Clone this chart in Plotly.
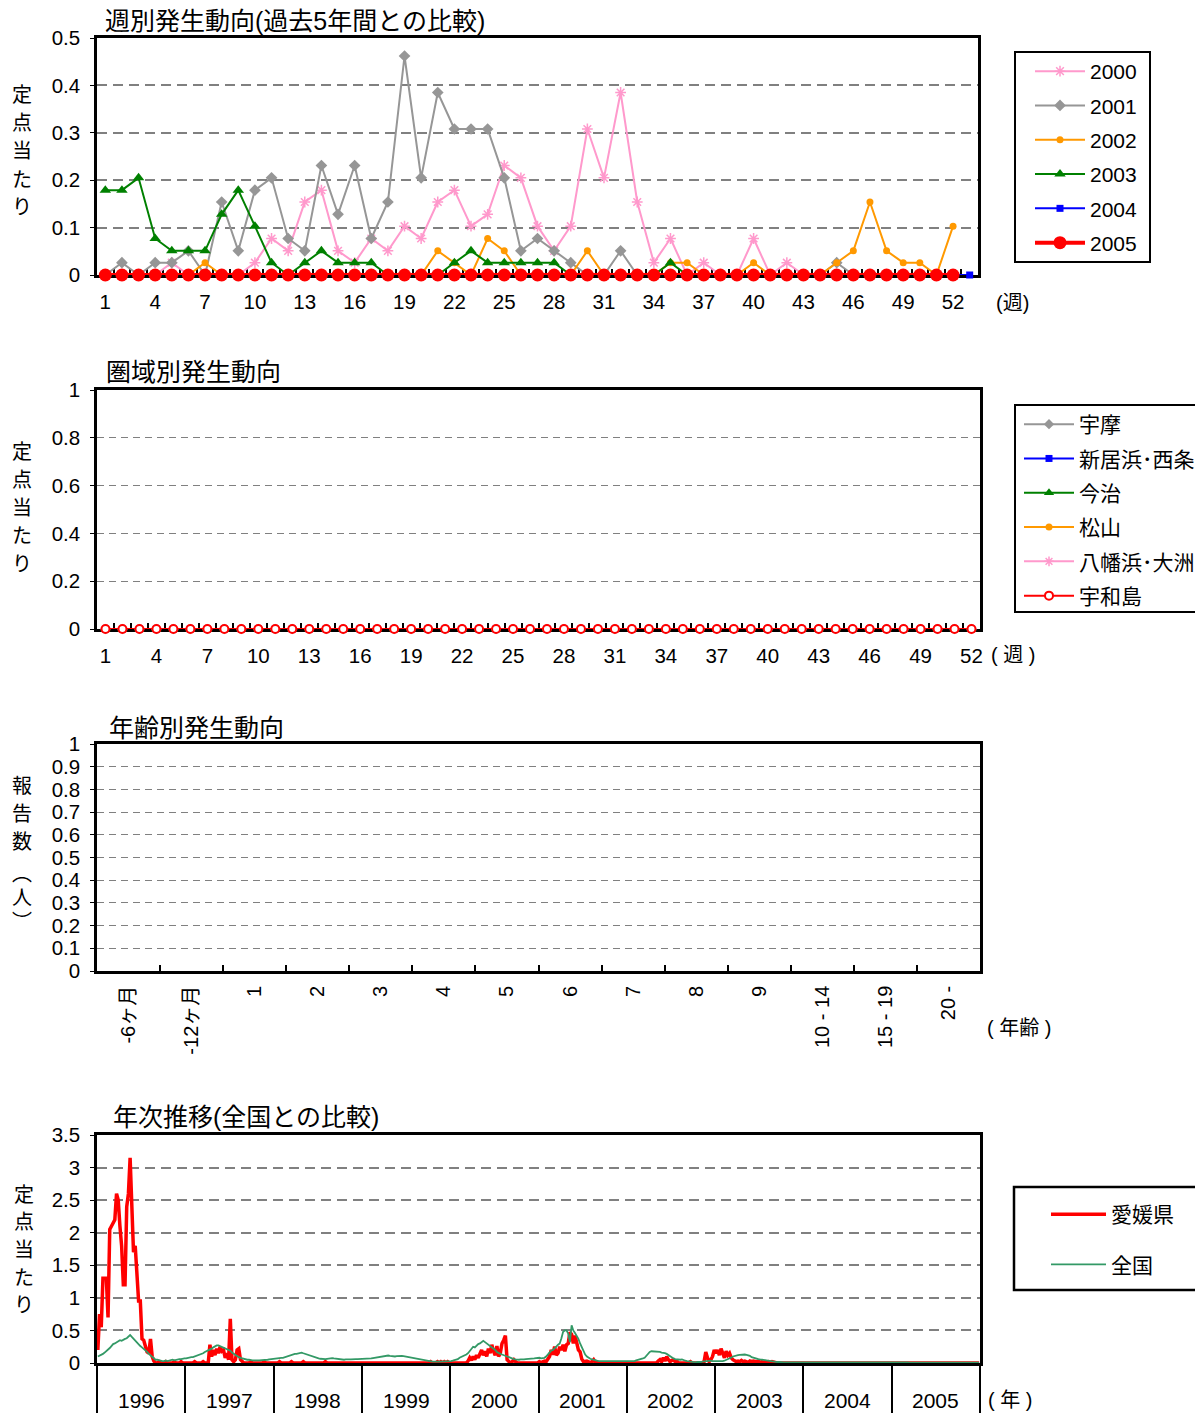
import plotly.graph_objects as go

W, H = 1203, 1413
OFF = 8  # page body margin offset
WF, HF = W - OFF, H - OFF
FONT = "Arial, 'Liberation Sans', 'Noto Sans CJK JP', sans-serif"


def px_x(x):
    return (x - OFF) / WF


def px_y(y):
    return 1 - (y - OFF) / HF


# ---------------- Chart 1: weekly, past 5 years ----------------
weeks_52 = [1, 2, 3, 4, 5, 6, 7, 8, 9, 10, 11, 12, 13, 14, 15, 16, 17, 18, 19, 20,
            21, 22, 23, 24, 25, 26, 27, 28, 29, 30, 31, 32, 33, 34, 35, 36, 37, 38, 39, 40,
            41, 42, 43, 44, 45, 46, 47, 48, 49, 50, 51, 52]
weeks_53 = weeks_52 + [53]
week_tick_labels = [1, 4, 7, 10, 13, 16, 19, 22, 25, 28, 31, 34, 37, 40, 43, 46, 49, 52]

w2000 = [0, 0, 0, 0, 0.026, 0, 0, 0, 0, 0.026,
         0.077, 0.051, 0.154, 0.179, 0.051, 0.026, 0.077, 0.051, 0.103, 0.077,
         0.154, 0.179, 0.103, 0.128, 0.231, 0.205, 0.103, 0.051, 0.103, 0.308,
         0.205, 0.385, 0.154, 0.026, 0.077, 0, 0.026, 0, 0, 0.077,
         0, 0.026, 0, 0, 0, 0, 0, 0, 0, 0, 0, 0]
w2001 = [0, 0.026, 0, 0.026, 0.026, 0.051, 0, 0.154, 0.051, 0.179,
         0.205, 0.077, 0.051, 0.231, 0.128, 0.231, 0.077, 0.154, 0.462, 0.205,
         0.385, 0.308, 0.308, 0.308, 0.205, 0.051, 0.077, 0.051, 0.026, 0,
         0, 0.051, 0, 0, 0, 0, 0, 0, 0, 0,
         0, 0, 0, 0, 0.026, 0, 0, 0, 0, 0, 0, 0]
w2002 = [0, 0, 0, 0, 0, 0, 0.026, 0, 0, 0,
         0, 0, 0, 0, 0, 0, 0, 0, 0, 0,
         0.051, 0.026, 0, 0.077, 0.051, 0, 0, 0, 0, 0.051,
         0, 0, 0, 0, 0.026, 0.026, 0, 0, 0, 0.026,
         0, 0, 0, 0, 0.026, 0.051, 0.154, 0.051, 0.026, 0.026, 0, 0.103]
w2003 = [0.179, 0.179, 0.205, 0.077, 0.051, 0.051, 0.051, 0.128, 0.179, 0.103,
         0.026, 0, 0.026, 0.051, 0.026, 0.026, 0.026, 0, 0, 0,
         0, 0.026, 0.051, 0.026, 0.026, 0.026, 0.026, 0.026, 0, 0,
         0, 0, 0, 0, 0.026, 0, 0, 0, 0, 0,
         0, 0, 0, 0, 0, 0, 0, 0, 0, 0, 0, 0]
w2004 = [0, 0, 0, 0, 0, 0, 0, 0, 0, 0,
         0, 0, 0, 0, 0, 0, 0, 0, 0, 0,
         0, 0, 0, 0, 0, 0, 0, 0, 0, 0,
         0, 0, 0, 0, 0, 0, 0, 0, 0, 0,
         0, 0, 0, 0, 0, 0, 0, 0, 0, 0, 0, 0, 0]
w2005 = [0, 0, 0, 0, 0, 0, 0, 0, 0, 0,
         0, 0, 0, 0, 0, 0, 0, 0, 0, 0,
         0, 0, 0, 0, 0, 0, 0, 0, 0, 0,
         0, 0, 0, 0, 0, 0, 0, 0, 0, 0,
         0, 0, 0, 0, 0, 0, 0, 0, 0, 0, 0, 0]

# ---------------- Chart 2: by region ----------------
region_names = ["宇摩", "新居浜･西条", "今治", "松山", "八幡浜･大洲", "宇和島"]
r_uma = [0, 0, 0, 0, 0, 0, 0, 0, 0, 0, 0, 0, 0, 0, 0, 0, 0, 0, 0, 0, 0, 0, 0, 0, 0, 0,
         0, 0, 0, 0, 0, 0, 0, 0, 0, 0, 0, 0, 0, 0, 0, 0, 0, 0, 0, 0, 0, 0, 0, 0, 0, 0]
r_niihama = [0, 0, 0, 0, 0, 0, 0, 0, 0, 0, 0, 0, 0, 0, 0, 0, 0, 0, 0, 0, 0, 0, 0, 0, 0, 0,
             0, 0, 0, 0, 0, 0, 0, 0, 0, 0, 0, 0, 0, 0, 0, 0, 0, 0, 0, 0, 0, 0, 0, 0, 0, 0]
r_imabari = [0, 0, 0, 0, 0, 0, 0, 0, 0, 0, 0, 0, 0, 0, 0, 0, 0, 0, 0, 0, 0, 0, 0, 0, 0, 0,
             0, 0, 0, 0, 0, 0, 0, 0, 0, 0, 0, 0, 0, 0, 0, 0, 0, 0, 0, 0, 0, 0, 0, 0, 0, 0]
r_matsuyama = [0, 0, 0, 0, 0, 0, 0, 0, 0, 0, 0, 0, 0, 0, 0, 0, 0, 0, 0, 0, 0, 0, 0, 0, 0, 0,
               0, 0, 0, 0, 0, 0, 0, 0, 0, 0, 0, 0, 0, 0, 0, 0, 0, 0, 0, 0, 0, 0, 0, 0, 0, 0]
r_yawatahama = [0, 0, 0, 0, 0, 0, 0, 0, 0, 0, 0, 0, 0, 0, 0, 0, 0, 0, 0, 0, 0, 0, 0, 0, 0, 0,
                0, 0, 0, 0, 0, 0, 0, 0, 0, 0, 0, 0, 0, 0, 0, 0, 0, 0, 0, 0, 0, 0, 0, 0, 0, 0]
r_uwajima = [0, 0, 0, 0, 0, 0, 0, 0, 0, 0, 0, 0, 0, 0, 0, 0, 0, 0, 0, 0, 0, 0, 0, 0, 0, 0,
             0, 0, 0, 0, 0, 0, 0, 0, 0, 0, 0, 0, 0, 0, 0, 0, 0, 0, 0, 0, 0, 0, 0, 0, 0, 0]

# ---------------- Chart 3: by age ----------------
age_categories = ["-6ヶ月", "-12ヶ月", "1", "2", "3", "4", "5", "6", "7", "8", "9",
                  "10 - 14", "15 - 19", "20 -"]
age_counts = [None, None, None, None, None, None, None, None, None, None, None, None, None, None]

# ---------------- Chart 4: yearly trend ----------------
year_labels = ["1996", "1997", "1998", "1999", "2000", "2001", "2002", "2003", "2004", "2005"]

ehime_1996 = [0.2, 0.75, 0.55, 1.3, 1.3, 1.3, 0.7, 2.05, 2.1, 2.15,
              2.2, 2.6, 2.5, 2.1, 1.8, 1.2, 1.2, 2.4, 2.6, 3.15,
              2.55, 1.7, 1.8, 1.4, 0.95, 0.95, 0.37, 0.35, 0.25, 0.17,
              0.15, 0.37, 0.1, 0.03, 0, 0, 0.02, 0, 0, 0,
              0.02, 0, 0, 0, 0, 0.02, 0, 0, 0, 0.02,
              0, 0]
ehime_1997 = [0, 0, 0, 0, 0, 0.02, 0, 0, 0, 0,
              0.02, 0, 0, 0, 0.28, 0.1, 0.2, 0.12, 0.22, 0.15,
              0.25, 0.18, 0.2, 0.08, 0.15, 0.05, 0.68, 0.05, 0.02, 0.05,
              0.2, 0.22, 0.05, 0.02, 0, 0, 0, 0, 0.02, 0,
              0, 0, 0, 0, 0, 0, 0.02, 0, 0, 0,
              0, 0]
ehime_1998 = [0, 0, 0, 0.02, 0, 0, 0, 0, 0, 0,
              0.02, 0, 0, 0, 0, 0, 0, 0.02, 0, 0,
              0, 0, 0, 0, 0, 0, 0, 0, 0, 0,
              0.02, 0, 0, 0, 0, 0, 0, 0, 0, 0,
              0, 0, 0, 0, 0, 0, 0, 0, 0, 0,
              0, 0]
ehime_1999 = [0, 0, 0, 0, 0, 0, 0, 0, 0, 0,
              0, 0, 0, 0, 0, 0, 0, 0, 0, 0,
              0, 0, 0, 0, 0, 0, 0, 0, 0, 0,
              0, 0, 0, 0, 0, 0, 0, 0, 0, 0,
              0.02, 0, 0, 0, 0.02, 0, 0.02, 0, 0.02, 0,
              0.02, 0]
ehime_2000 = [0, 0, 0, 0, 0, 0, 0, 0, 0, 0,
              0.03, 0.08, 0.04, 0.1, 0.05, 0.12, 0.08, 0.15, 0.2, 0.12,
              0.18, 0.1, 0.22, 0.15, 0.28, 0.18, 0.12, 0.26, 0.1, 0.15,
              0.3, 0.35, 0.42, 0.05, 0.02, 0, 0.02, 0.05, 0.02, 0,
              0, 0, 0, 0, 0, 0, 0, 0, 0, 0,
              0, 0]
ehime_2001 = [0.02, 0, 0.02, 0.03, 0.02, 0.05, 0.1, 0.2, 0.13, 0.25,
              0.12, 0.15, 0.25, 0.2, 0.28, 0.18, 0.28, 0.3, 0.47, 0.44,
              0.3, 0.42, 0.28, 0.2, 0.17, 0.06, 0.02, 0.03, 0.03, 0.02,
              0, 0.02, 0.05, 0.01, 0, 0, 0, 0, 0, 0,
              0, 0, 0, 0, 0, 0, 0, 0, 0, 0,
              0, 0]
ehime_2002 = [0, 0, 0, 0, 0, 0, 0, 0, 0, 0,
              0, 0, 0, 0, 0, 0, 0, 0, 0.03, 0.05,
              0.02, 0.08, 0.03, 0.1, 0.05, 0.02, 0.04, 0.05, 0.02, 0.03,
              0, 0, 0, 0, 0, 0, 0, 0.02, 0, 0,
              0, 0, 0, 0, 0, 0.02, 0.17, 0.08, 0.02, 0.05,
              0.1, 0.2]
ehime_2003 = [0.15, 0.2, 0.12, 0.22, 0.15, 0.08, 0.18, 0.12, 0.15, 0.08,
              0.05, 0.03, 0.02, 0.03, 0.02, 0.04, 0.02, 0.03, 0.02, 0.01,
              0.03, 0.02, 0.03, 0.02, 0.02, 0.03, 0.01, 0.02, 0.01, 0.02,
              0.01, 0.02, 0.01, 0.02, 0.01, 0, 0, 0, 0, 0,
              0, 0, 0, 0, 0, 0, 0, 0, 0, 0,
              0, 0]
ehime_2004 = [0, 0, 0, 0, 0, 0, 0, 0, 0, 0,
              0, 0, 0, 0, 0, 0, 0.01, 0.01, 0.01, 0.01,
              0.01, 0.01, 0.01, 0, 0, 0, 0, 0, 0, 0,
              0, 0, 0, 0, 0, 0, 0, 0, 0, 0,
              0, 0, 0, 0, 0, 0, 0, 0, 0, 0,
              0, 0]
ehime_2005 = [0, 0, 0, 0, 0, 0, 0, 0, 0, 0,
              0, 0, 0, 0, 0, 0, 0, 0, 0, 0,
              0, 0, 0, 0, 0, 0, 0, 0, 0, 0,
              0, 0, 0, 0, 0, 0, 0, 0, 0, 0,
              0, 0, 0, 0, 0, 0, 0, 0, 0, 0,
              0, 0]

zenkoku_1996 = [0.1, 0.11, 0.12, 0.14, 0.16, 0.18, 0.21, 0.23, 0.26, 0.29,
                0.3, 0.32, 0.33, 0.35, 0.34, 0.36, 0.37, 0.38, 0.4, 0.43,
                0.4, 0.37, 0.34, 0.31, 0.29, 0.26, 0.24, 0.22, 0.2, 0.17,
                0.14, 0.12, 0.09, 0.07, 0.05, 0.05, 0.04, 0.03, 0.03, 0.03,
                0.04, 0.03, 0.04, 0.04, 0.05, 0.04, 0.05, 0.05, 0.06, 0.06,
                0.07, 0.07]
zenkoku_1997 = [0.07, 0.08, 0.08, 0.09, 0.09, 0.1, 0.11, 0.11, 0.12, 0.13,
                0.15, 0.17, 0.18, 0.2, 0.21, 0.22, 0.24, 0.26, 0.27, 0.27,
                0.26, 0.25, 0.24, 0.23, 0.22, 0.2, 0.19, 0.16, 0.14, 0.12,
                0.1, 0.09, 0.08, 0.07, 0.06, 0.06, 0.05, 0.05, 0.04, 0.04,
                0.04, 0.035, 0.04, 0.04, 0.04, 0.045, 0.045, 0.05, 0.05, 0.055,
                0.06, 0.065]
zenkoku_1998 = [0.065, 0.07, 0.07, 0.075, 0.08, 0.08, 0.09, 0.1, 0.11, 0.12,
                0.12, 0.13, 0.14, 0.14, 0.15, 0.16, 0.16, 0.15, 0.14, 0.13,
                0.12, 0.11, 0.1, 0.09, 0.08, 0.07, 0.07, 0.065, 0.06, 0.06,
                0.06, 0.065, 0.07, 0.07, 0.075, 0.07, 0.065, 0.06, 0.06, 0.055,
                0.055, 0.05, 0.055, 0.05, 0.055, 0.055, 0.06, 0.055, 0.06, 0.06,
                0.06, 0.06]
zenkoku_1999 = [0.06, 0.06, 0.065, 0.065, 0.07, 0.07, 0.075, 0.08, 0.085, 0.09,
                0.1, 0.1, 0.11, 0.115, 0.12, 0.115, 0.11, 0.105, 0.1, 0.1,
                0.105, 0.11, 0.11, 0.11, 0.105, 0.1, 0.095, 0.09, 0.08, 0.075,
                0.065, 0.06, 0.055, 0.05, 0.045, 0.04, 0.035, 0.03, 0.03, 0.025,
                0.02, 0.02, 0.02, 0.015, 0.02, 0.02, 0.02, 0.025, 0.025, 0.03,
                0.03, 0.03]
zenkoku_2000 = [0.03, 0.035, 0.04, 0.05, 0.06, 0.08, 0.09, 0.1, 0.12, 0.13,
                0.15, 0.18, 0.21, 0.25, 0.24, 0.27, 0.29, 0.3, 0.32, 0.34,
                0.32, 0.3, 0.29, 0.27, 0.25, 0.23, 0.2, 0.17, 0.15, 0.14,
                0.13, 0.12, 0.1, 0.09, 0.08, 0.07, 0.065, 0.06, 0.055, 0.05,
                0.05, 0.055, 0.05, 0.055, 0.06, 0.06, 0.06, 0.065, 0.07, 0.07,
                0.075, 0.08]
zenkoku_2001 = [0.08, 0.07, 0.07, 0.08, 0.1, 0.13, 0.17, 0.19, 0.2, 0.22,
                0.25, 0.28, 0.3, 0.38, 0.48, 0.5, 0.5, 0.45, 0.32, 0.58,
                0.5, 0.46, 0.42, 0.37, 0.3, 0.24, 0.19, 0.13, 0.1, 0.08,
                0.065, 0.055, 0.045, 0.04, 0.035, 0.03, 0.03, 0.025, 0.025, 0.02,
                0.02, 0.02, 0.02, 0.025, 0.02, 0.025, 0.025, 0.03, 0.03, 0.03,
                0.03, 0.03]
zenkoku_2002 = [0.03, 0.025, 0.02, 0.025, 0.03, 0.04, 0.045, 0.05, 0.06, 0.07,
                0.08, 0.11, 0.15, 0.17, 0.18, 0.18, 0.17, 0.18, 0.17, 0.17,
                0.16, 0.16, 0.15, 0.14, 0.12, 0.1, 0.08, 0.07, 0.06, 0.055,
                0.055, 0.05, 0.055, 0.04, 0.035, 0.03, 0.025, 0.02, 0.015, 0.01,
                0.01, 0.015, 0.01, 0.015, 0.02, 0.025, 0.03, 0.035, 0.04, 0.035,
                0.03, 0.03]
zenkoku_2003 = [0.02, 0.02, 0.02, 0.025, 0.03, 0.035, 0.045, 0.06, 0.07, 0.085,
                0.1, 0.11, 0.12, 0.12, 0.125, 0.13, 0.13, 0.13, 0.125, 0.12,
                0.11, 0.09, 0.08, 0.07, 0.065, 0.06, 0.055, 0.05, 0.045, 0.04,
                0.04, 0.035, 0.03, 0.025, 0.02, 0.02, 0.015, 0.015, 0.01, 0.01,
                0.01, 0.01, 0.01, 0.01, 0.01, 0.01, 0.01, 0.01, 0.01, 0.01,
                0.01, 0.01]
zenkoku_2004 = [0.01, 0.01, 0.01, 0.01, 0.01, 0.01, 0.01, 0.01, 0.01, 0.01,
                0.01, 0.01, 0.01, 0.01, 0.02, 0.02, 0.02, 0.02, 0.02, 0.02,
                0.02, 0.02, 0.02, 0.02, 0.02, 0.01, 0.01, 0.01, 0.01, 0.01,
                0.01, 0.01, 0.01, 0.01, 0.01, 0.01, 0.01, 0.01, 0.01, 0.01,
                0.01, 0.01, 0.01, 0.01, 0.01, 0.01, 0.01, 0.01, 0.01, 0.01,
                0.01, 0.01]
zenkoku_2005 = [0.01, 0.01, 0.01, 0.01, 0.01, 0.01, 0.01, 0.01, 0.01, 0.01,
                0.005, 0.005, 0.005, 0.005, 0.005, 0.005, 0.005, 0.005, 0.005, 0.005,
                0.005, 0.005, 0.005, 0.005, 0.005, 0.005, 0.005, 0.005, 0.005, 0.005,
                0.005, 0.005, 0.005, 0.005, 0.005, 0.005, 0.005, 0.005, 0.005, 0.005,
                0.005, 0.005, 0.005, 0.005, 0.005, 0.005, 0.005, 0.005, 0.005, 0.005,
                0.005, 0.005]

ehime_all = (ehime_1996 + ehime_1997 + ehime_1998 + ehime_1999 + ehime_2000 +
             ehime_2001 + ehime_2002 + ehime_2003 + ehime_2004 + ehime_2005)
zenkoku_all = (zenkoku_1996 + zenkoku_1997 + zenkoku_1998 + zenkoku_1999 + zenkoku_2000 +
               zenkoku_2001 + zenkoku_2002 + zenkoku_2003 + zenkoku_2004 + zenkoku_2005)
trend_x = list(range(len(ehime_all)))
WPY = 52  # weeks per year slot on the trend axis

fig = go.Figure()

# ---- chart 1 traces
c1 = [
    ("2000", weeks_52, w2000, "#FF99CC", 2, "asterisk-open", 9, 1.5),
    ("2001", weeks_52, w2001, "#969696", 2, "diamond", 9, 0),
    ("2002", weeks_52, w2002, "#FF9900", 2, "circle", 7, 0),
    ("2003", weeks_52, w2003, "#008000", 2, "triangle-up", 10, 0),
    ("2004", weeks_53, w2004, "#0000FF", 2, "square", 7, 0),
    ("2005", weeks_52, w2005, "#FF0000", 4, "circle", 13, 0),
]
for name, xs, ys, col, lw, sym, ms, mlw in c1:
    mk = dict(symbol=sym, size=ms, color=col)
    if mlw:
        mk["line"] = dict(color=col, width=mlw)
    fig.add_trace(go.Scatter(x=xs, y=ys, name=name, mode="lines+markers",
                             line=dict(color=col, width=lw), marker=mk,
                             xaxis="x", yaxis="y", legend="legend",
                             legendgroup="a" + name, cliponaxis=False))

# ---- chart 2 traces
region_series = [r_uma, r_niihama, r_imabari, r_matsuyama, r_yawatahama, r_uwajima]
c2_styles = [
    ("#969696", "diamond", 8, "#969696", 0),
    ("#0000FF", "square", 7, "#0000FF", 0),
    ("#008000", "triangle-up", 9, "#008000", 0),
    ("#FF9900", "circle", 7, "#FF9900", 0),
    ("#FF99CC", "asterisk-open", 8, "#FF99CC", 1.5),
    ("#FF0000", "circle", 8, "white", 2),
]
for name, ys, (col, sym, ms, fill, mlw) in zip(region_names, region_series, c2_styles):
    mk = dict(symbol=sym, size=ms, color=fill)
    if mlw:
        mk["line"] = dict(color=col, width=mlw)
    fig.add_trace(go.Scatter(x=weeks_52, y=ys, name=name, mode="lines+markers",
                             line=dict(color=col, width=2), marker=mk,
                             xaxis="x2", yaxis="y2", legend="legend2",
                             legendgroup="b" + name, cliponaxis=False))

# ---- chart 3 trace (no reports)
fig.add_trace(go.Scatter(x=age_categories, y=age_counts, mode="lines", showlegend=False,
                         xaxis="x3", yaxis="y3", line=dict(color="black")))

# ---- chart 4 traces
fig.add_trace(go.Scatter(x=trend_x, y=ehime_all, name="愛媛県", mode="lines",
                         line=dict(color="#FF0000", width=3.5),
                         xaxis="x4", yaxis="y4", legend="legend3", legendgroup="c1"))
fig.add_trace(go.Scatter(x=trend_x, y=zenkoku_all, name="全国", mode="lines",
                         line=dict(color="#339966", width=1.8),
                         xaxis="x4", yaxis="y4", legend="legend3", legendgroup="c2"))

# ---- axes
TICKF = dict(family=FONT, size=20.5, color="black")
axis_common = dict(showline=True, linecolor="black", linewidth=2.5, mirror=True,
                   zeroline=False, layer="below traces", tickfont=TICKF)

d1 = [px_y(275), px_y(38)]
d2 = [px_y(629), px_y(390)]
d3 = [px_y(971), px_y(744)]
d4 = [px_y(1363), px_y(1135)]
xd = [px_x(97), px_x(980)]

half_weeks_53 = [w + 0.5 for w in weeks_52]
half_weeks_52 = [w + 0.5 for w in weeks_52[:-1]]

fig.update_layout(
    xaxis=dict(domain=[px_x(97), px_x(978)], anchor="y", range=[0.5, 53.5],
               tickmode="array", tickvals=week_tick_labels,
               ticktext=[str(v) for v in week_tick_labels], ticks="", showgrid=False,
               ticklabelstandoff=7,
               minor=dict(tickmode="array", tickvals=half_weeks_53, ticks="inside",
                          ticklen=6, tickwidth=1.5, tickcolor="black", showgrid=False),
               **axis_common),
    yaxis=dict(domain=d1, anchor="x", range=[0, 0.5], tick0=0, dtick=0.1,
               showgrid=True, gridcolor="#808080", gridwidth=1.5, griddash="10px,6px",
               ticks="outside", ticklen=4, tickcolor="black", ticklabelstandoff=6,
               **axis_common),
    xaxis2=dict(domain=xd, anchor="y2", range=[0.5, 52.5],
                tickmode="array", tickvals=week_tick_labels,
                ticktext=[str(v) for v in week_tick_labels], ticks="", showgrid=False,
                ticklabelstandoff=7,
                minor=dict(tickmode="array", tickvals=half_weeks_52, ticks="inside",
                           ticklen=6, tickwidth=1.5, tickcolor="black", showgrid=False),
                **axis_common),
    yaxis2=dict(domain=d2, anchor="x2", range=[0, 1], tick0=0, dtick=0.2,
                showgrid=True, gridcolor="#808080", gridwidth=1, griddash="7px,5px",
                ticks="outside", ticklen=4, tickcolor="black", ticklabelstandoff=6,
                **axis_common),
    xaxis3=dict(domain=xd, anchor="y3", type="category", categoryorder="array",
                categoryarray=age_categories, range=[-0.5, 13.5], tickson="boundaries",
                ticks="inside", ticklen=6, tickwidth=1.5, tickcolor="black",
                tickangle=-90, showgrid=False, ticklabelstandoff=4,
                **{**axis_common, "tickfont": dict(family=FONT, size=20, color="black")}),
    yaxis3=dict(domain=d3, anchor="x3", range=[0, 1], tick0=0, dtick=0.1,
                showgrid=True, gridcolor="#808080", gridwidth=1, griddash="7px,5px",
                ticks="outside", ticklen=4, tickcolor="black", ticklabelstandoff=6,
                **axis_common),
    xaxis4=dict(domain=xd, anchor="y4", range=[-0.5, len(trend_x) - 0.5],
                tickmode="array",
                tickvals=[k * WPY - 0.5 for k in range(len(year_labels) + 1)],
                showticklabels=False, ticks="outside", ticklen=60, tickwidth=2,
                tickcolor="black", showgrid=False, **axis_common),
    yaxis4=dict(domain=d4, anchor="x4", range=[0, 3.5], tick0=0, dtick=0.5,
                showgrid=True, gridcolor="#808080", gridwidth=1.5, griddash="10px,6px",
                ticks="outside", ticklen=4, tickcolor="black", ticklabelstandoff=6,
                **axis_common),
)

# ---- legends (boxes drawn as shapes)
fig.update_layout(
    legend=dict(x=px_x(1030), y=px_y(51), xanchor="left", yanchor="top",
                bgcolor="rgba(0,0,0,0)", borderwidth=0,
                font=dict(family=FONT, size=21, color="black"),
                tracegroupgap=4, itemwidth=50),
    legend2=dict(x=px_x(1019), y=px_y(404), xanchor="left", yanchor="top",
                 bgcolor="rgba(0,0,0,0)", borderwidth=0,
                 font=dict(family=FONT, size=21, color="black"),
                 tracegroupgap=4, itemwidth=50),
    legend3=dict(x=px_x(1046), y=px_y(1194), xanchor="left", yanchor="top",
                 bgcolor="rgba(0,0,0,0)", borderwidth=0,
                 font=dict(family=FONT, size=21, color="black"),
                 tracegroupgap=20, itemwidth=55),
)

shapes = [
    dict(type="rect", xref="paper", yref="paper", x0=px_x(1015), x1=px_x(1150),
         y0=px_y(262), y1=px_y(52), line=dict(color="black", width=2), layer="below"),
    dict(type="rect", xref="paper", yref="paper", x0=px_x(1015), x1=px_x(1215),
         y0=px_y(612), y1=px_y(405), line=dict(color="black", width=2), layer="below"),
    dict(type="rect", xref="paper", yref="paper", x0=px_x(1014), x1=px_x(1215),
         y0=px_y(1290), y1=px_y(1187), line=dict(color="black", width=2.5), layer="below"),
]

# ---- annotations
ann = []


def text(x, y, s, size=19, xanchor="left"):
    ann.append(dict(x=px_x(x), y=px_y(y), xref="paper", yref="paper", text=s,
                    showarrow=False, xanchor=xanchor, yanchor="middle",
                    font=dict(family=FONT, size=size, color="black")))


text(103, 21, "週別発生動向(過去5年間との比較)", 25)
text(104, 372, "圏域別発生動向", 25)
text(107, 728, "年齢別発生動向", 25)
text(111, 1117, "年次推移(全国との比較)", 25)

for ch, yy in zip("定点当たり", [95, 123, 151, 180, 207]):
    text(22, yy, ch, 20, "center")
for ch, yy in zip("定点当たり", [452, 480, 508, 536, 564]):
    text(22, yy, ch, 20, "center")
for ch, yy in zip(["報", "告", "数", "︵", "人", "︶"], [786, 814, 842, 874, 898, 922]):
    text(22, yy, ch, 20, "center")
for ch, yy in zip("定点当たり", [1195, 1222, 1250, 1278, 1305]):
    text(24, yy, ch, 20, "center")

text(994, 303, "(週)", 20)
text(989, 655, "( 週 )", 20)
text(985, 1028, "( 年齢 )", 20)
text(986, 1400, "( 年 )", 20)

for k, lab in enumerate(year_labels):
    ann.append(dict(x=k * WPY + (WPY - 1) / 2, y=px_y(1400), xref="x4", yref="paper",
                    text=lab, showarrow=False, xanchor="center", yanchor="middle",
                    font=dict(family=FONT, size=21, color="black")))

fig.update_layout(
    width=WF, height=HF, autosize=False,
    margin=dict(l=0, r=0, t=0, b=0, pad=0, autoexpand=False),
    paper_bgcolor="white", plot_bgcolor="white",
    font=dict(family=FONT, size=19, color="black"),
    shapes=shapes, annotations=ann,
)

fig.write_html("out.html")
